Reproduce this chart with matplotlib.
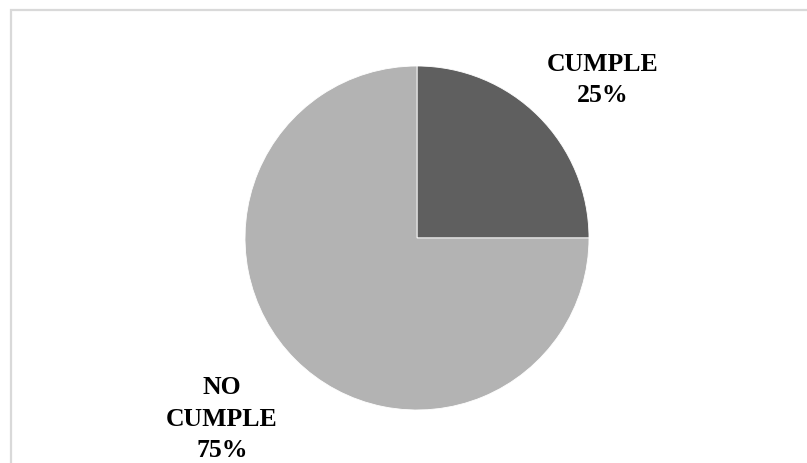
import matplotlib.pyplot as plt
from matplotlib.patches import Rectangle

labels = ["CUMPLE", "NO\nCUMPLE"]
values = [25, 75]
colors = ["#5f5f5f", "#b3b3b3"]

W, H = 807, 463
fig = plt.figure(figsize=(W / 100, H / 100), dpi=100, facecolor="white")
ax = fig.add_axes([0, 0, 1, 1])

# chart area border
ax.add_patch(Rectangle((10.5, -5), W, H - 9.5 + 5, fill=False,
                       edgecolor="#d9d9d9", linewidth=1.6))

cx, cy, r = 417, H - 238, 172
ax.pie(values, colors=colors, startangle=90, counterclock=False,
       center=(cx, cy), radius=r, frame=True,
       wedgeprops=dict(edgecolor="white", linewidth=0.6))
ax.set_xlim(0, W)
ax.set_ylim(0, H)
ax.set_aspect("auto")
ax.axis("off")

font = dict(family="Liberation Serif", weight="bold", fontsize=18.5,
            ha="center", va="center", linespacing=1.45)
ax.text(603, H - 80, f"{labels[0]}\n{values[0]}%", **font)
ax.text(222, H - 419, f"{labels[1]}\n{values[1]}%", **font)

fig.savefig("out.png", dpi=100, facecolor="white")
